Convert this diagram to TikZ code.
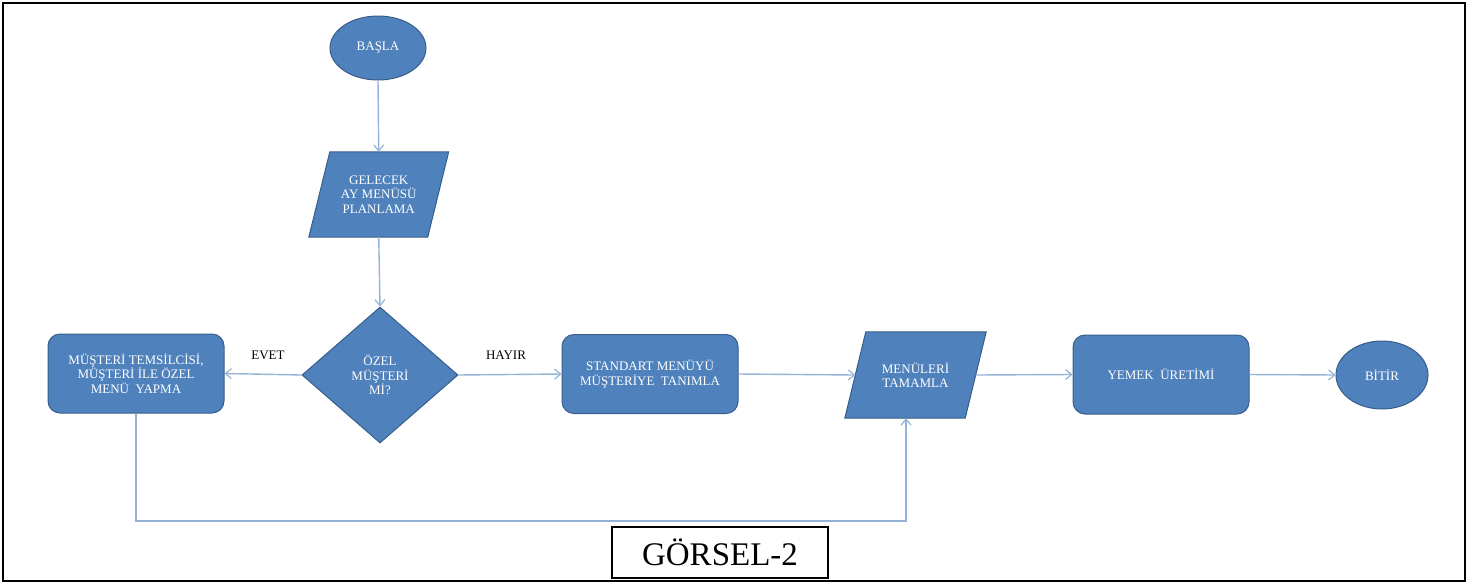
\documentclass[tikz,border=0pt]{standalone}
\usepackage{fontspec}
\setmainfont{Liberation Serif}
\usetikzlibrary{shapes.geometric,arrows.meta,calc}
\definecolor{boxfill}{RGB}{79,129,189}
\definecolor{boxline}{RGB}{56,93,138}
\definecolor{conn}{RGB}{149,179,215}
\begin{document}
\begin{tikzpicture}[x=1pt,y=-1pt,
  txt/.style={text=white,font=\fontsize{13}{14.5}\selectfont,align=center},
  proc/.style={txt,draw=boxline,fill=boxfill,line width=1pt,rounded corners=12pt,minimum width=176pt,minimum height=79pt,inner sep=0pt},
  term/.style={txt,draw=boxline,fill=boxfill,line width=1pt,ellipse,inner sep=0pt},
  dec/.style={txt,draw=boxline,fill=boxfill,line width=1pt,diamond,minimum width=156pt,minimum height=136pt,inner sep=0pt},
  io/.style={txt,draw=none,inner sep=0pt},
  arr/.style={draw=conn,line width=1.4pt,-{Straight Barb[length=6pt,width=10pt,line width=1.2pt]}},
  lbl/.style={font=\fontsize{13}{14.5}\selectfont,text=black}]
\useasboundingbox (0,0) rectangle (1471,584);
\draw[line width=2.6pt] (3,3) rectangle (1465,581);

% start
\node[term,minimum width=96pt,minimum height=64pt] (start) at (378,48) {BAŞLA};

% input parallelogram 1
\node[io,minimum width=118.5pt,minimum height=85pt] (plan) at (378.75,194.5) {GELECEK\\AY MENÜSÜ\\PLANLAMA};
\begin{scope}[on background layer/.style={}]
\end{scope}
\path[draw=boxline,fill=boxfill,line width=1pt]
  ($(plan.north west)+(10.5,0)$) -- ($(plan.north east)+(10.5,0)$) --
  ($(plan.south east)+(-10.5,0)$) -- ($(plan.south west)+(-10.5,0)$) -- cycle;
\node[io,minimum width=118.5pt,minimum height=85pt] at (plan.center) {GELECEK\\AY MENÜSÜ\\PLANLAMA};

% decision
\node[dec] (dec) at (380,375) {ÖZEL\\MÜŞTERİ\\Mİ?};

% processes
\node[proc] (ozel) at (136,373.5) {MÜŞTERİ TEMSİLCİSİ,\\MÜŞTERİ İLE ÖZEL\\MENÜ\ \ YAPMA};
\node[proc] (std) at (650,374) {STANDART MENÜYÜ\\MÜŞTERİYE\ \ TANIMLA};

% input parallelogram 2
\node[io,minimum width=120pt,minimum height=86pt] (tam) at (915.5,375) {MENÜLERİ\\TAMAMLA};
\path[draw=boxline,fill=boxfill,line width=1pt]
  ($(tam.north west)+(10.5,0)$) -- ($(tam.north east)+(10.5,0)$) --
  ($(tam.south east)+(-10.5,0)$) -- ($(tam.south west)+(-10.5,0)$) -- cycle;
\node[io,minimum width=120pt,minimum height=86pt] at (tam.center) {MENÜLERİ\\TAMAMLA};

\node[proc] (yemek) at (1161,374.5) {YEMEK\ \ ÜRETİMİ};
\node[term,minimum width=92pt,minimum height=68pt] (bitir) at (1382,375) {BİTİR};

% connectors
\draw[arr] (start.south) -- (plan.north);
\draw[arr] (plan.south) -- (dec.north);
\draw[arr] (dec.west) -- (ozel.east);
\draw[arr] (dec.east) -- (std.west);
\draw[arr] (std.east) -- (tam.west);
\draw[arr] (tam.east) -- (yemek.west);
\draw[arr] (yemek.east) -- (bitir.west);
\coordinate (low) at (136,521);
\draw[arr] (ozel.south) -- (low) -| ($(tam.south)+(-9.5,0)$);

% labels
\node[lbl] (evet) at (268,355) {EVET};
\node[lbl] (hayir) at (506,355) {HAYIR};

% caption
\node[draw=black,line width=1.2pt,minimum width=216pt,minimum height=51pt,inner sep=0pt,font=\fontsize{33}{36}\selectfont] (cap) at (720,552.5) {GÖRSEL-2};
\end{tikzpicture}
\end{document}
